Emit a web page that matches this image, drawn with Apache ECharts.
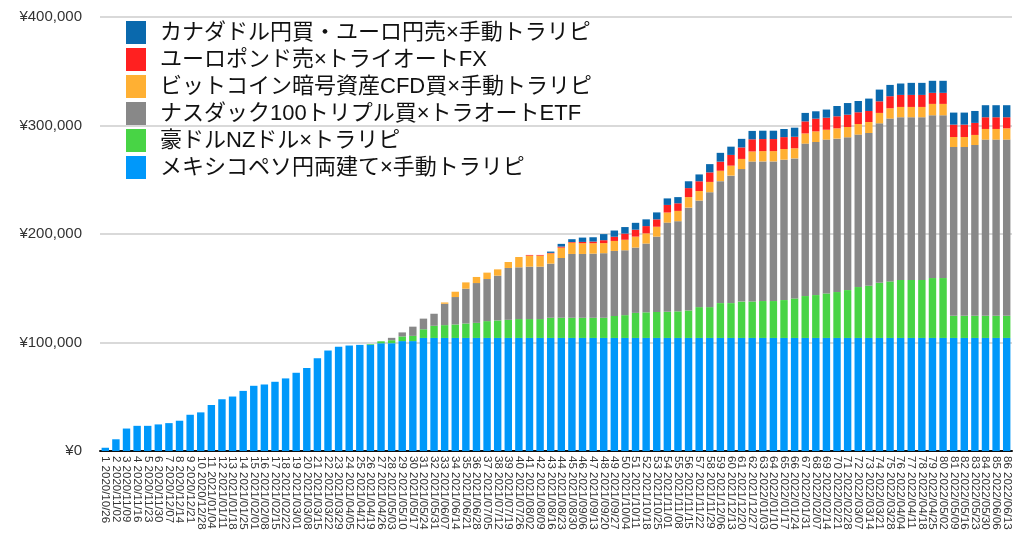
<!DOCTYPE html>
<html>
<head>
<meta charset="utf-8">
<script src="https://cdn.jsdelivr.net/npm/echarts@6/dist/echarts.min.js"></script>
<style>
  html, body { margin: 0; padding: 0; background: #fff; }
  #chart { width: 1024px; height: 549px; }
</style>
</head>
<body>
<div id="chart"></div>
<script>
// 週ラベル
var weeks = [
  '1 2020/10/26','2 2020/11/02','3 2020/11/09','4 2020/11/16','5 2020/11/23','6 2020/11/30','7 2020/12/07','8 2020/12/14','9 2020/12/21','10 2020/12/28',
  '11 2021/01/04','12 2021/01/11','13 2021/01/18','14 2021/01/25','15 2021/02/01','16 2021/02/08','17 2021/02/15','18 2021/02/22','19 2021/03/01','20 2021/03/08',
  '21 2021/03/15','22 2021/03/22','23 2021/03/29','24 2021/04/05','25 2021/04/12','26 2021/04/19','27 2021/04/26','28 2021/05/03','29 2021/05/10','30 2021/05/17',
  '31 2021/05/24','32 2021/05/31','33 2021/06/07','34 2021/06/14','35 2021/06/21','36 2021/06/28','37 2021/07/05','38 2021/07/12','39 2021/07/19','40 2021/07/26',
  '41 2021/08/02','42 2021/08/09','43 2021/08/16','44 2021/08/23','45 2021/08/30','46 2021/09/06','47 2021/09/13','48 2021/09/20','49 2021/09/27','50 2021/10/04',
  '51 2021/10/11','52 2021/10/18','53 2021/10/25','54 2021/11/01','55 2021/11/08','56 2021/11/15','57 2021/11/22','58 2021/11/29','59 2021/12/06','60 2021/12/13',
  '61 2021/12/20','62 2021/12/27','63 2022/01/03','64 2022/01/10','65 2022/01/17','66 2022/01/24','67 2022/01/31','68 2022/02/07','69 2022/02/14','70 2022/02/21',
  '71 2022/02/28','72 2022/03/07','73 2022/03/14','74 2022/03/21','75 2022/03/28','76 2022/04/04','77 2022/04/11','78 2022/04/18','79 2022/04/25','80 2022/05/02',
  '81 2022/05/09','82 2022/05/16','83 2022/05/23','84 2022/05/30','85 2022/06/06','86 2022/06/13'
];

// メキシコペソ円両建て×手動トラリピ
var mxn = [
  3000,10800,20700,23200,23200,24500,25700,27900,33400,35600,
  42400,47700,50200,55400,60100,61300,63800,66900,72100,76500,
  85400,92600,96000,97200,97800,98000,99300,99400,101300,101300,
  104200,104200,104200,104200,104200,104200,104200,104200,104200,104200,
  104200,104200,104200,104200,104200,104200,104200,104200,104200,104200,
  104200,104200,104200,104200,104200,104200,104200,104200,104200,104200,
  104200,104200,104200,104200,104200,104200,104200,104200,104200,104200,
  104200,104200,104200,104200,104200,104200,104200,104200,104200,104200,
  104200,104200,104200,104200,104200,104200
];

// 豪ドルNZドル×トラリピ
var audnzd = [
  0,0,0,0,0,0,0,0,0,0,
  0,0,0,0,0,0,0,0,0,0,
  0,0,0,0,0,600,1800,2700,4300,4800,
  8000,11200,11800,12400,13300,13900,15500,16100,16700,17400,
  17400,17400,18600,18600,18600,18600,18600,18600,20200,21000,
  23100,23600,23900,24100,24500,25300,28400,28400,32100,32100,
  33500,33600,34000,34000,34900,36400,38600,39500,41000,42300,
  44100,46900,48100,50800,52100,53400,53400,53400,55200,55200,
  20400,20400,20400,20400,20400,20400
];

// ナスダック100トリプル買×トラオートETF
var nasdaq = [
  0,0,0,0,0,0,0,0,0,0,
  0,0,0,0,0,0,0,0,0,0,
  0,0,0,0,0,0,0,2200,3700,8500,
  9800,11100,19700,25300,32100,36700,38800,41300,47800,47700,
  48300,48300,49900,55100,58800,58800,59100,59500,60000,59800,
  60200,63400,69500,82200,83100,94800,98200,105900,112400,117500,
  122100,129000,128700,128700,129400,129100,140500,141100,141800,141400,
  140800,140500,140800,147000,150100,150000,150000,150000,150000,150000,
  155600,155600,157400,162400,162400,162400
];

// ビットコイン暗号資産CFD買×手動トラリピ
var btc = [
  0,0,0,0,0,0,0,0,0,0,
  0,0,0,0,0,0,0,0,0,0,
  0,0,0,0,0,0,0,0,0,0,
  0,0,1200,4900,5800,5600,5900,5800,5500,9500,
  10200,10200,9400,9500,10400,9900,9600,9300,9200,9700,
  10100,9400,9100,9300,9500,9700,8800,9500,9600,9200,
  9400,9300,9500,9500,9800,9300,9400,9800,9100,9500,
  9500,9800,10100,9600,9500,9500,9500,9500,10500,10500,
  9200,9200,9300,9800,9800,10400
];

// ユーロポンド売×トライオートFX
var eurgbp = [
  0,0,0,0,0,0,0,0,0,0,
  0,0,0,0,0,0,0,0,0,0,
  0,0,0,0,0,0,0,0,0,0,
  0,0,0,0,0,0,0,0,0,0,
  600,600,500,1000,600,1200,1500,2700,3900,5700,
  6400,6700,6800,7000,7000,8300,9000,8800,8400,9900,
  10600,11200,11100,11100,11000,10600,11100,11700,11100,11100,
  11400,10800,10200,10700,11100,11100,11100,11100,10200,10200,
  11400,11400,11100,10800,10800,10200
];

// カナダドル円買・ユーロ円売×手動トラリピ
var cad = [
  0,0,0,0,0,0,0,0,0,0,
  0,0,0,0,0,0,0,0,0,0,
  0,0,0,0,0,0,0,0,0,0,
  0,0,0,0,0,0,0,0,0,0,
  0,0,1200,2500,2600,4000,4000,5600,5700,6000,
  6300,6200,6400,6000,5700,6300,6300,7600,8100,7600,
  7900,7700,7700,7700,7500,8400,7800,6800,7500,9500,
  10700,10400,11400,10800,10400,10500,11100,11100,11100,11100,
  11100,11100,11000,11100,11100,11100
];

var names = [
  'メキシコペソ円両建て×手動トラリピ',
  '豪ドルNZドル×トラリピ',
  'ナスダック100トリプル買×トラオートETF',
  'ビットコイン暗号資産CFD買×手動トラリピ',
  'ユーロポンド売×トライオートFX',
  'カナダドル円買・ユーロ円売×手動トラリピ'
];
var colors = ['#0098fa', '#48d445', '#888888', '#ffb033', '#ff2020', '#0a69ad'];
var values = [mxn, audnzd, nasdaq, btc, eurgbp, cad];

var myChart = echarts.init(document.getElementById('chart'));

var series = [];
for (var i = 0; i < names.length; i++) {
  series.push({
    name: names[i],
    type: 'bar',
    stack: 'total',
    barCategoryGap: '30%',
    itemStyle: { color: colors[i] },
    data: values[i]
  });
}

function yen(v) {
  return '¥' + String(v).replace(/\B(?=(\d{3})+(?!\d))/g, ',');
}

var option = {
  animation: false,
  backgroundColor: '#ffffff',
  color: colors,
  legend: {
    orient: 'vertical',
    left: 121,
    top: 16,
    itemWidth: 20,
    itemHeight: 23,
    itemGap: 4,
    icon: 'rect',
    data: names.slice().reverse(),
    textStyle: {
      fontFamily: '"Liberation Sans", "Noto Sans CJK JP", sans-serif',
      fontSize: 22,
      color: '#111',
      padding: [0, 0, 0, 9]
    }
  },
  grid: {
    left: 100,
    right: 12,
    top: 17,
    bottom: 98,
    containLabel: false
  },
  xAxis: {
    type: 'category',
    data: weeks,
    axisLine: { lineStyle: { color: '#111', width: 2 } },
    axisTick: { show: false },
    axisLabel: {
      interval: 0,
      rotate: -90,
      fontSize: 11.5,
      margin: 5,
      color: '#333',
      fontFamily: '"Liberation Sans", Arial, sans-serif'
    }
  },
  yAxis: {
    type: 'value',
    min: 0,
    max: 400000,
    interval: 100000,
    axisLine: { show: false },
    axisTick: { show: false },
    splitLine: { lineStyle: { color: '#cccccc', width: 1.5 } },
    axisLabel: {
      formatter: yen,
      fontSize: 15,
      margin: 18,
      color: '#333',
      fontFamily: '"Liberation Sans", Arial, sans-serif'
    }
  },
  series: series
};

myChart.setOption(option);
</script>
</body>
</html>
